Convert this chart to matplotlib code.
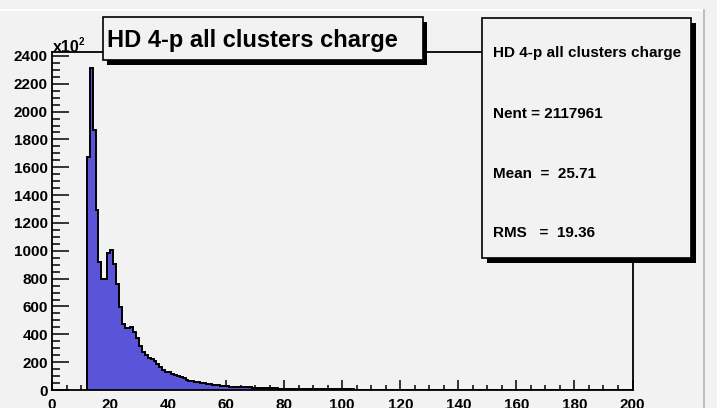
import matplotlib.pyplot as plt
from matplotlib.patches import Rectangle
from matplotlib.lines import Line2D
from matplotlib.ticker import MultipleLocator
import numpy as np

plt.rcParams['font.family'] = ['Liberation Sans', 'DejaVu Sans']
plt.rcParams['font.weight'] = 'bold'

W, H = 717, 408
BG = '#f2f2f2'
FILL = '#5a54d9'

title = 'HD 4-p all clusters charge'
n_entries = 2117961
mean = 25.71
rms = 19.36

# bin contents in units of 10^2, one per unit bin starting at 12
first_bin = 12
counts = [
    1671, 2311, 1868, 1293, 922, 795, 795, 982, 1006, 905,   # 12-21
    759, 598, 476, 443, 445, 450, 415, 372, 319, 276,        # 22-31
    251, 233, 226, 211, 187, 163, 144, 130, 126, 114,        # 32-41
    108, 98, 90, 84, 74, 68, 63, 58, 54, 51,                 # 42-51
    48, 45, 42, 38, 35, 33, 31, 29, 27, 25,                  # 52-61
    24, 23, 22, 21, 20, 19, 18, 17, 16, 15,                  # 62-71
    14, 14, 13, 12, 12, 11, 10, 10,                          # 72-79
    9, 9, 8, 8, 8, 7, 7, 7, 6, 6,                            # 80-89
    6, 6, 5, 5, 5, 5, 5, 4, 4, 4,                            # 90-99
    4, 4, 4, 4, 3, 3, 3, 3, 3, 3,                            # 100-109
    3, 3, 3, 2, 2, 2, 2, 2, 2, 2,                            # 110-119
    2, 2, 2, 2, 2, 2, 2, 2, 2, 2,                            # 120-129
    2, 2, 2, 2, 2, 2, 2, 2, 2, 2,                            # 130-139
    1, 1, 1, 1, 1, 1, 1, 1, 1, 1,                            # 140-149
    1, 1, 1, 1, 1, 1, 1, 1, 1, 1,                            # 150-159
    1, 1, 1, 1, 1, 1, 1, 1, 1, 1,                            # 160-169
    1, 1, 1, 1, 1, 1, 1, 1, 1, 1,                            # 170-179
    1, 1, 1, 1, 1, 1, 1, 1, 1, 1,                            # 180-189
    1, 1, 1, 1, 1, 1, 1, 1, 1, 1,                            # 190-199
]
edges = np.arange(first_bin, first_bin + len(counts) + 1)


def fx(x):
    return x / W


def fy(y):
    return 1 - y / H


fig = plt.figure(figsize=(W / 100, H / 100), dpi=100)
fig.patch.set_facecolor(BG)

# pad bevel
fig.add_artist(Line2D([fx(0), fx(703)], [fy(10), fy(10)], color='white', lw=1.2))
fig.add_artist(Line2D([fx(704), fx(704)], [fy(10), fy(408)], color='#b4b4b4', lw=1.2))

ax = fig.add_axes([fx(52), fy(390), (632.5 - 52) / W, 338 / H])
ax.set_facecolor(BG)
ax.stairs(counts, edges, fill=True, color=FILL, zorder=2)
ax.stairs(counts, edges, baseline=0, color='black', lw=1.4, zorder=3)

ax.set_xlim(0, 200)
ax.set_ylim(0, 2428)
ax.xaxis.set_major_locator(MultipleLocator(20))
ax.xaxis.set_minor_locator(MultipleLocator(5))
ax.yaxis.set_major_locator(MultipleLocator(200))
ax.yaxis.set_minor_locator(MultipleLocator(50))
ax.tick_params(axis='y', which='major', direction='in', length=12.2, width=1.1,
               labelsize=11, pad=3)
ax.tick_params(axis='y', which='minor', direction='in', length=5.8, width=1.1)
ax.tick_params(axis='x', which='major', direction='in', length=7.2, width=1.1,
               labelsize=11, pad=6)
ax.tick_params(axis='x', which='minor', direction='in', length=3.6, width=1.1)
for s in ax.spines.values():
    s.set_linewidth(1.3)
ax.spines['left'].set_zorder(4)
ax.spines['bottom'].set_zorder(4)

fig.text(fx(53), fy(52), 'x10', fontsize=11.5, fontweight='bold', va='baseline')
fig.text(fx(79), fy(45), '2', fontsize=7, fontweight='bold', va='baseline')

# title box
fig.add_artist(Rectangle((fx(107), fy(65)), fx(320), 43 / H, facecolor='black',
                         edgecolor='black', lw=0))
fig.add_artist(Rectangle((fx(103), fy(60)), fx(320), 43 / H, facecolor=BG,
                         edgecolor='black', lw=1.2))
fig.text(fx(107), fy(46.7), title, fontsize=17, fontweight='bold', va='baseline')

# stats box
fig.add_artist(Rectangle((fx(487), fy(263)), fx(209), 240 / H, facecolor='black',
                         edgecolor='black', lw=0))
fig.add_artist(Rectangle((fx(482), fy(258)), fx(209), 240 / H, facecolor=BG,
                         edgecolor='black', lw=1.2))
stats = [title, 'Nent = %d' % n_entries, 'Mean  =  %.2f' % mean, 'RMS   =  %.2f' % rms]
for line, yb in zip(stats, [56.7, 118.3, 178.3, 237.3]):
    fig.text(fx(492.7), fy(yb), line, fontsize=11, fontweight='bold', va='baseline')

fig.savefig('out.png', dpi=100, facecolor=BG)
